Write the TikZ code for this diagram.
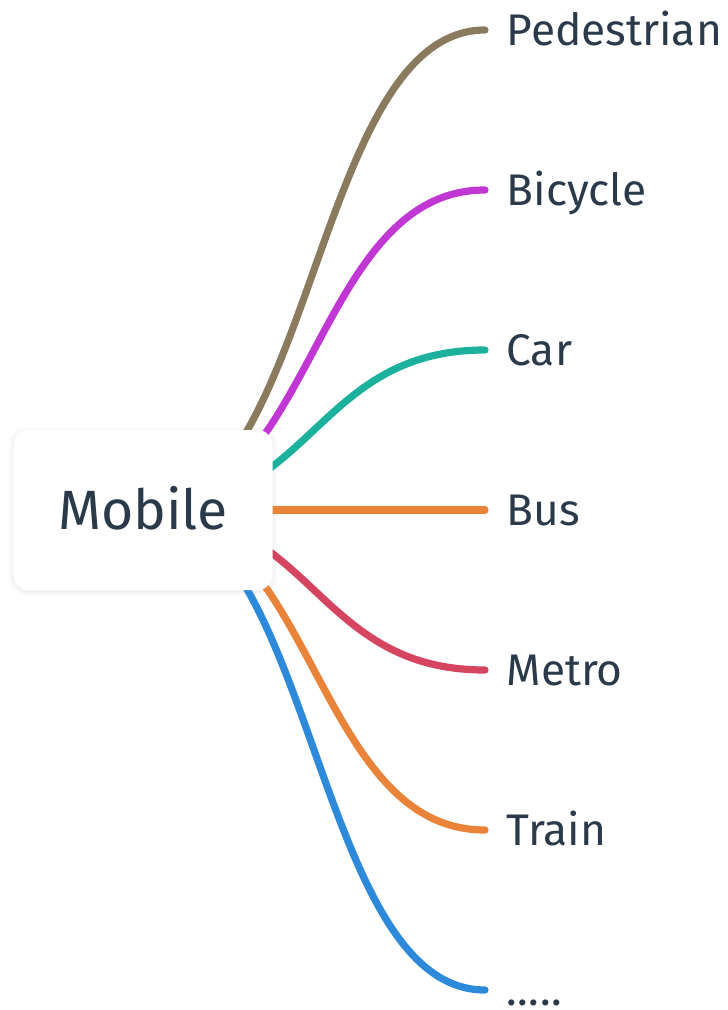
\documentclass[tikz,border=0pt]{standalone}
\usepackage{fontspec}
\setmainfont{Fira Sans}
\usetikzlibrary{calc}
\pgfdeclarelayer{background}
\pgfsetlayers{background,main}

\definecolor{inkblue}{HTML}{2A3A4B}
\definecolor{cbrown}{HTML}{8A7B5E}
\definecolor{cpurple}{HTML}{C037D4}
\definecolor{cteal}{HTML}{1BB19C}
\definecolor{corange}{HTML}{E9833A}
\definecolor{cred}{HTML}{D5455F}
\definecolor{cblue}{HTML}{2D89DA}

\tikzset{
  rootbox/.style={fill=white, rounded corners=11.25pt, minimum width=194.25pt,
    minimum height=120pt, inner sep=0pt, text=inkblue,
    font=\fontsize{41.5}{48}\selectfont, text height=28.6pt, text depth=0pt},
  leaf/.style={anchor=west, inner xsep=16pt, inner ysep=0pt, text=inkblue,
    font=\fontsize{33.2}{40}\selectfont, text height=22.9pt, text depth=0pt},
  branch/.style={line width=5.4pt, line cap=round},
  haze/.style={fill=black, fill opacity=0.012, rounded corners=#1}
}

\begin{document}
\begin{tikzpicture}[x=0.75pt, y=-0.75pt]
  \useasboundingbox (0,0) rectangle (728,1010);

  % central topic
  \node[rootbox] (root) at (143,510) {Mobile};

  % subtopics
  \node[leaf] (ped)   at (485,30)  {Pedestrian};
  \node[leaf] (bike)  at (485,190) {Bicycle};
  \node[leaf] (car)   at (485,350) {Car};
  \node[leaf] (bus)   at (485,510) {Bus};
  \node[leaf] (metro) at (485,670) {Metro};
  \node[leaf] (train) at (485,830) {Train};
  \node[leaf] (more)  at (485,990) {.\kern0.4pt.\kern0.4pt.\kern0.4pt.\kern0.4pt.};

  \begin{pgfonlayer}{background}
    % soft shadow under the central topic
    \foreach \g in {1,2,3,4}{
      \fill[haze=12pt] ($(root.south west)+(-\g*1.2,\g*0.9+1.5)$)
        rectangle ($(root.north east)+(\g*1.2,-\g*0.9+1.5)$);
    }
    % branches from the centre of the central topic
    \draw[branch, cbrown]  (root.center) .. controls +(171,0) and +(-171,0) .. (ped.west);
    \draw[branch, cpurple] (root.center) .. controls +(171,0) and +(-171,0) .. (bike.west);
    \draw[branch, cteal]   (root.center) .. controls +(171,0) and +(-171,0) .. (car.west);
    \draw[branch, corange] (root.center) -- (bus.west);
    \draw[branch, cred]    (root.center) .. controls +(171,0) and +(-171,0) .. (metro.west);
    \draw[branch, corange] (root.center) .. controls +(171,0) and +(-171,0) .. (train.west);
    \draw[branch, cblue]   (root.center) .. controls +(171,0) and +(-171,0) .. (more.west);
  \end{pgfonlayer}
\end{tikzpicture}
\end{document}
